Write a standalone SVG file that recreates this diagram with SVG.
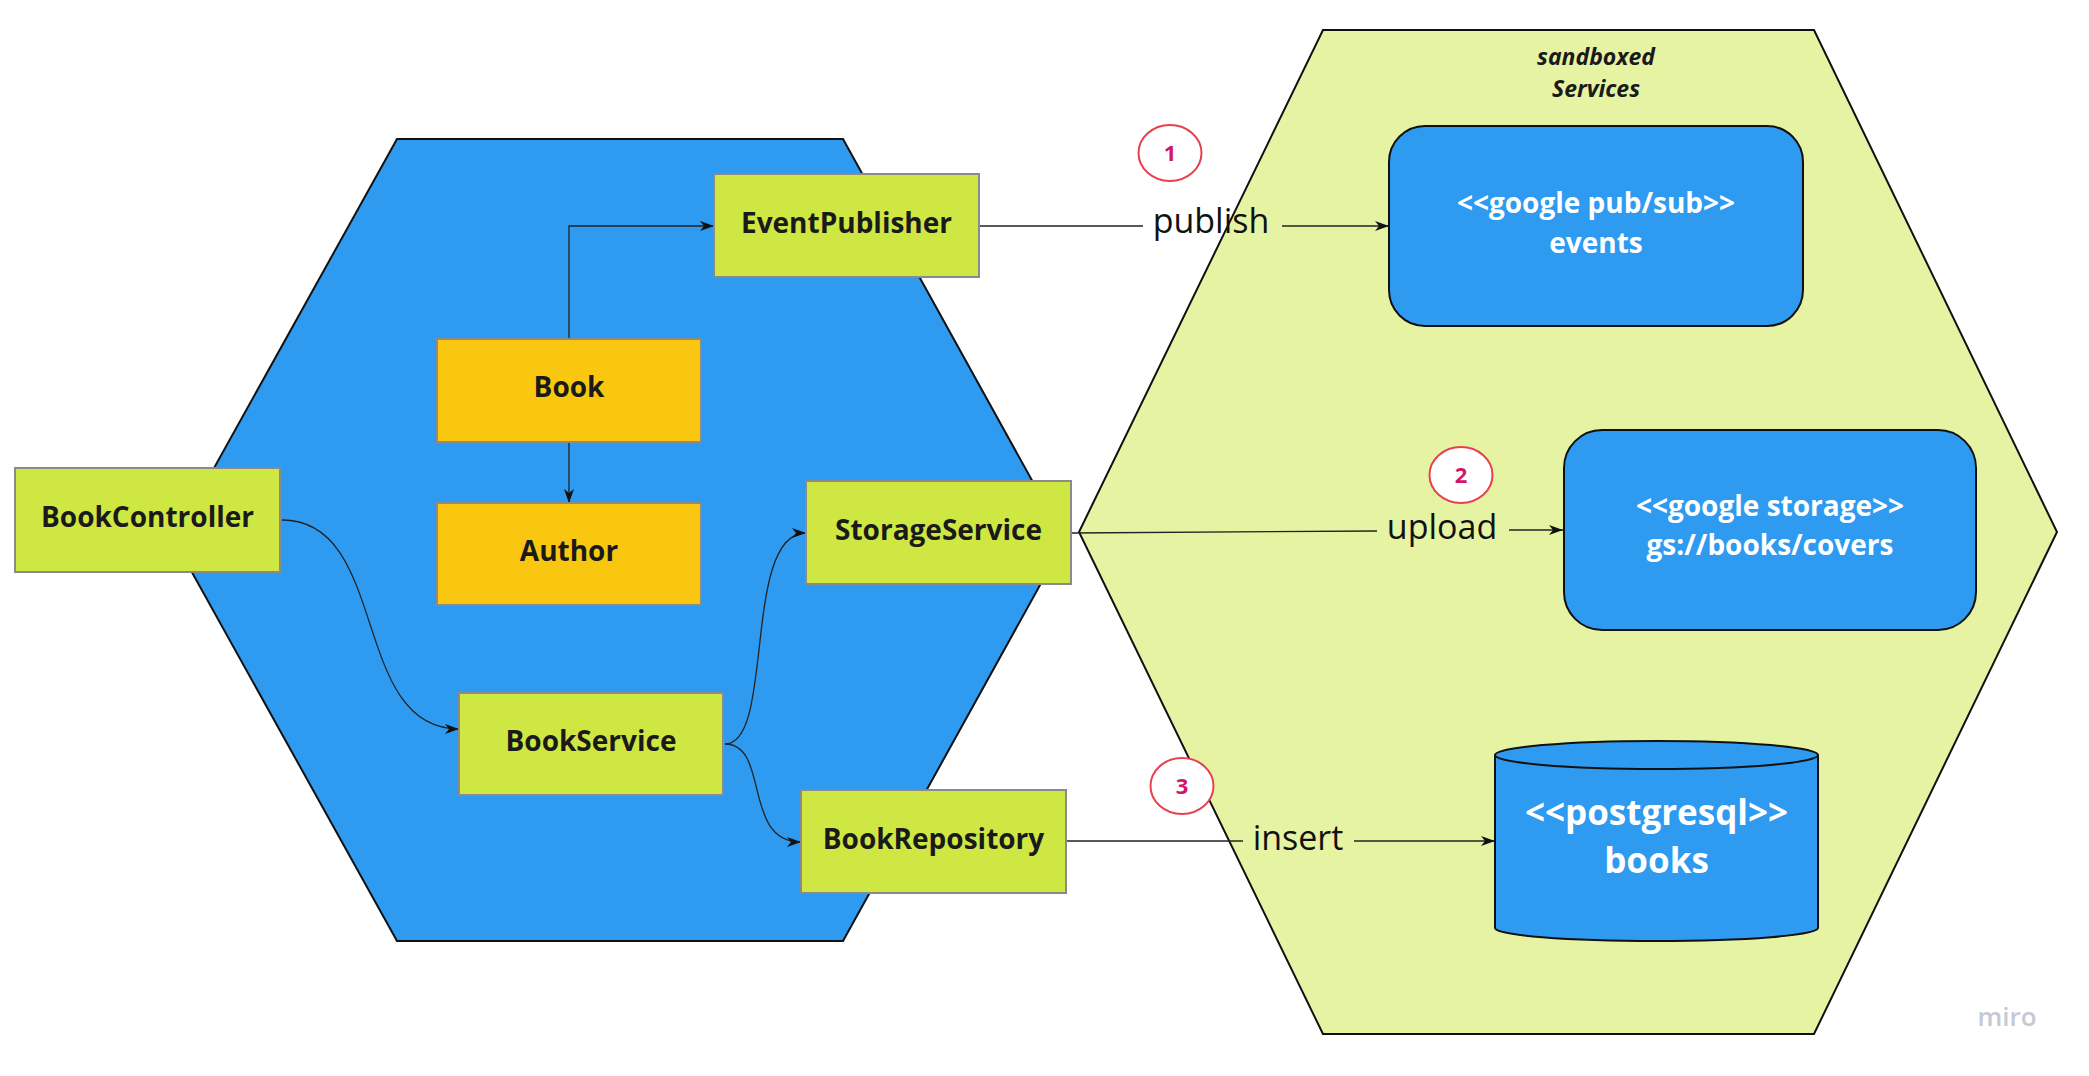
<svg xmlns="http://www.w3.org/2000/svg" width="2089" height="1076" viewBox="0 0 2089 1076">
<style>
.hex{stroke:#111;stroke-width:2}
.box{fill:#cfe742;stroke:#8a8a8a;stroke-width:2}
.ent{fill:#fac710;stroke:#8a8a8a;stroke-width:2}
.svc{fill:#2e9bf0;stroke:#111;stroke-width:2}
.t{font-family:"Open Sans","Liberation Sans",sans-serif;font-weight:bold;font-size:28px;fill:#1a1a1a;text-anchor:middle}
.w{font-family:"Open Sans","Liberation Sans",sans-serif;font-weight:bold;font-size:28px;fill:#ffffff;text-anchor:middle}
.lbl{font-family:"Open Sans","Liberation Sans",sans-serif;font-size:34px;fill:#111;text-anchor:middle}
.num{font-family:"Open Sans","Liberation Sans",sans-serif;font-weight:bold;font-size:22px;fill:#d1166b;text-anchor:middle}
.circ{fill:#ffffff;stroke:#e8404f;stroke-width:2}
.c{fill:none;stroke:#222;stroke-width:1.3}
</style>
<defs>
<marker id="arr" viewBox="0 0 14 10" refX="14" refY="5" markerWidth="14" markerHeight="10" markerUnits="userSpaceOnUse" orient="auto">
<path d="M0,0 L14,5 L0,10 L4,5 z" fill="#111"/>
</marker>
</defs>
<rect width="2089" height="1076" fill="#ffffff"/>
<g id="sandbox">
<polygon class="hex" fill="#e5f3a2" points="1323,30 1814,30 2057,532 1814,1034 1323,1034 1079,532"/>
<text x="1596" y="65" font-family="'Open Sans','Liberation Sans',sans-serif" font-weight="bold" font-style="italic" font-size="23" fill="#1a1a1a" text-anchor="middle">sandboxed</text>
<text x="1596" y="97" font-family="'Open Sans','Liberation Sans',sans-serif" font-weight="bold" font-style="italic" font-size="23" fill="#1a1a1a" text-anchor="middle">Services</text>
</g>
<g id="core">
<polygon class="hex" fill="#2e9bf0" points="397,139 843,139 1065,540 843,941 397,941 174,540"/>
</g>
<g id="connectors">
<path class="c" d="M569,339 L569,226 L714,226" marker-end="url(#arr)"/>
<path class="c" d="M569,442 L569,503" marker-end="url(#arr)"/>
<path class="c" d="M282,520 C390,520 350,729 459,729" marker-end="url(#arr)"/>
<path class="c" d="M725,744 C775,744 742,533 806,533" marker-end="url(#arr)"/>
<path class="c" d="M725,744 C770,744 742,842 801,842" marker-end="url(#arr)"/>
<path class="c" d="M980,226 L1143,226"/>
<path class="c" d="M1282,226 L1389,226" marker-end="url(#arr)"/>
<path class="c" d="M1072,533 L1377,531"/>
<path class="c" d="M1509,530 L1563,530" marker-end="url(#arr)"/>
<path class="c" d="M1067,841 L1243,841"/>
<path class="c" d="M1354,841 L1495,841" marker-end="url(#arr)"/>
<text class="lbl" x="1211" y="233">publish</text>
<text class="lbl" x="1442" y="539">upload</text>
<text class="lbl" x="1298" y="850">insert</text>
</g>
<g id="BookController">
<rect class="box" x="15" y="468" width="265" height="104"/>
<text class="t" x="147.5" y="527">BookController</text>
</g>
<g id="EventPublisher">
<rect class="box" x="714" y="174" width="265" height="103"/>
<text class="t" x="846.5" y="233">EventPublisher</text>
</g>
<g id="Book">
<rect class="ent" x="437" y="339" width="264" height="103"/>
<text class="t" x="569" y="397">Book</text>
</g>
<g id="Author">
<rect class="ent" x="437" y="503" width="264" height="102"/>
<text class="t" x="569" y="561">Author</text>
</g>
<g id="StorageService">
<rect class="box" x="806" y="481" width="265" height="103"/>
<text class="t" x="938.5" y="540">StorageService</text>
</g>
<g id="BookService">
<rect class="box" x="459" y="693" width="264" height="102"/>
<text class="t" x="591" y="751">BookService</text>
</g>
<g id="BookRepository">
<rect class="box" x="801" y="790" width="265" height="103"/>
<text class="t" x="933.5" y="849">BookRepository</text>
</g>
<g id="PubSub">
<rect class="svc" x="1389" y="126" width="414" height="200" rx="36" ry="36"/>
<text class="w" x="1596" y="213">&lt;&lt;google pub/sub&gt;&gt;</text>
<text class="w" x="1596" y="253">events</text>
</g>
<g id="GoogleStorage">
<rect class="svc" x="1564" y="430" width="412" height="200" rx="38" ry="38"/>
<text class="w" x="1770" y="516">&lt;&lt;google storage&gt;&gt;</text>
<text class="w" x="1770" y="555">gs://books/covers</text>
</g>
<g id="Postgres">
<path class="svc" d="M1495,755 L1495,928 A161.5,13 0 0 0 1818,928 L1818,755"/>
<ellipse class="svc" cx="1656.5" cy="755" rx="161.5" ry="14"/>
<text class="w" x="1656.5" y="825" font-size="35" style="font-size:35px">&lt;&lt;postgresql&gt;&gt;</text>
<text class="w" x="1656.5" y="873" style="font-size:35px">books</text>
</g>
<g id="step1">
<ellipse class="circ" cx="1170" cy="153" rx="31.5" ry="28"/>
<text class="num" x="1170" y="161">1</text>
</g>
<g id="step2">
<ellipse class="circ" cx="1461" cy="475" rx="31.5" ry="28"/>
<text class="num" x="1461" y="483">2</text>
</g>
<g id="step3">
<ellipse class="circ" cx="1182" cy="786" rx="31.5" ry="28"/>
<text class="num" x="1182" y="794">3</text>
</g>
<text x="2007" y="1026" font-family="'Open Sans','Liberation Sans',sans-serif" font-weight="600" font-size="26" fill="#c6c8d6" text-anchor="middle">miro</text>
</svg>
